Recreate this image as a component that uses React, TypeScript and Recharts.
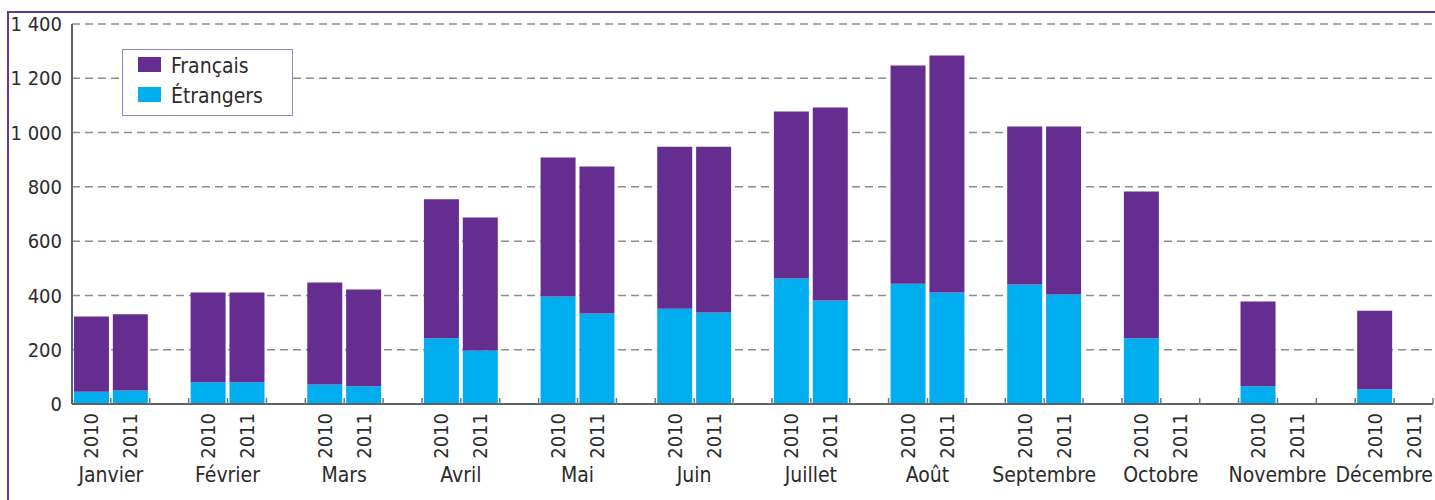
import React from "react";
import { BarChart, Bar, XAxis, YAxis, CartesianGrid } from "recharts";

const months = [
  "Janvier", "Février", "Mars", "Avril", "Mai", "Juin",
  "Juillet", "Août", "Septembre", "Octobre", "Novembre", "Décembre",
];
const years = ["2010", "2011"];

// Totals (Français + Étrangers); null = no data
const total2010 = [322, 411, 448, 754, 908, 948, 1078, 1247, 1022, 783, 378, 344];
const total2011 = [331, 411, 422, 687, 875, 948, 1092, 1284, 1022, null, null, null];
const etrangers2010 = [45, 80, 72, 242, 396, 351, 462, 443, 440, 242, 65, 54];
const etrangers2011 = [50, 80, 65, 197, 333, 337, 381, 411, 403, null, null, null];

const yTicks = [0, 200, 400, 600, 800, 1000, 1200, 1400];

const PURPLE = "#652d90";
const BLUE = "#00aeef";
const FONT = "'DejaVu Sans Condensed', 'DejaVu Sans', sans-serif";
const TEXT = "#2b2b2b";

type Row = {
  key: string;
  month: string;
  year: string | null;
  francais: number | null;
  etrangers: number | null;
};

const data: Row[] = [];
months.forEach((m, i) => {
  const t = [total2010[i], total2011[i]];
  const e = [etrangers2010[i], etrangers2011[i]];
  years.forEach((y, j) => {
    data.push({
      key: `${m}-${y}`,
      month: m,
      year: y,
      francais: t[j] == null ? null : (t[j] as number) - (e[j] as number),
      etrangers: e[j],
    });
  });
  if (i < months.length - 1) {
    data.push({ key: `${m}-gap`, month: m, year: null, francais: null, etrangers: null });
  }
});

const CHART_W = 1435;
const CHART_H = 500;
const MARGIN = { top: 24, right: 2, bottom: 0, left: 0 };
const Y_W = 72;
const X_H = 96;
const BAND = (CHART_W - MARGIN.left - MARGIN.right - Y_W) / data.length;

const fmt = (v: number) => {
  const s = String(v);
  return s.length > 3 ? s.slice(0, s.length - 3) + " " + s.slice(s.length - 3) : s;
};

const XTick = (props: any) => {
  const { x, y, payload } = props;
  const idx = payload.index;
  const row = data[idx];
  const left = x - BAND / 2;
  const right = x + BAND / 2;
  const isLast = idx === data.length - 1;
  const isFirst = idx === 0;
  return (
    <g>
      {!isFirst && (
        <line x1={left} x2={left} y1={y} y2={y - 6} stroke="#6f7777" strokeWidth={1.5} />
      )}
      {isLast && (
        <line x1={right} x2={right} y1={y} y2={y - 6} stroke="#6f7777" strokeWidth={1.5} />
      )}
      {row.year && (
        <text
          x={x}
          y={y + 9}
          transform={`rotate(-90 ${x} ${y + 9})`}
          textAnchor="end"
          dominantBaseline="central"
          fontFamily={FONT}
          fontSize={20}
          fill={TEXT}
        >
          {row.year}
        </text>
      )}
      {row.year === "2010" && (
        <text
          x={idx === data.length - 2 ? x + BAND * 1.5 : right}
          y={y + 78}
          textAnchor={idx === data.length - 2 ? "end" : "middle"}
          fontFamily={FONT}
          fontSize={21}
          fill={TEXT}
        >
          {row.month}
        </text>
      )}
    </g>
  );
};

const Legend = () => (
  <div
    style={{
      position: "absolute",
      left: 122,
      top: 49,
      width: 169,
      height: 65,
      border: "1px solid #9a84c2",
      background: "#fff",
      fontFamily: FONT,
      fontSize: 21,
      color: TEXT,
    }}
  >
    {[
      { label: "Français", color: PURPLE, top: 7 },
      { label: "Étrangers", color: BLUE, top: 37 },
    ].map((it) => (
      <div key={it.label} style={{ position: "absolute", left: 15, top: it.top, height: 16 }}>
        <div
          style={{
            position: "absolute",
            left: 0,
            top: 0,
            width: 23,
            height: 15,
            background: it.color,
          }}
        />
        <div
          style={{
            position: "absolute",
            left: 33,
            top: -3,
            whiteSpace: "nowrap",
            lineHeight: "24px",
          }}
        >
          {it.label}
        </div>
      </div>
    ))}
  </div>
);

export default function App() {
  return (
    <div
      style={{
        position: "absolute",
        left: 0,
        top: 0,
        width: CHART_W,
        height: CHART_H,
        background: "#fff",
        overflow: "hidden",
      }}
    >
      <div
        style={{
          position: "absolute",
          left: 7,
          top: 11,
          width: CHART_W,
          height: CHART_H,
          borderLeft: "2px solid #68359a",
          borderTop: "2px solid #68359a",
        }}
      />
      <div style={{ position: "absolute", left: 0, top: 0 }}>
        <BarChart
          width={CHART_W}
          height={CHART_H}
          data={data}
          margin={MARGIN}
          barCategoryGap="5%"
        >
          <CartesianGrid
            vertical={false}
            stroke="#86908f"
            strokeWidth={1.5}
            strokeDasharray="8 5"
          />
          <XAxis
            dataKey="key"
            interval={0}
            height={X_H}
            tickSize={0}
            tickMargin={0}
            tickLine={false}
            axisLine={{ stroke: "#5b6366", strokeWidth: 2 }}
            tick={<XTick />}
          />
          <YAxis
            width={Y_W}
            domain={[0, 1400]}
            ticks={yTicks}
            interval={0}
            tickFormatter={fmt}
            tickLine={false}
            tickMargin={4}
            axisLine={{ stroke: "#5b6366", strokeWidth: 2 }}
            tick={{ fontFamily: FONT, fontSize: 20, fill: TEXT }}
          />
          <Bar dataKey="etrangers" stackId="a" fill={BLUE} isAnimationActive={false} />
          <Bar dataKey="francais" stackId="a" fill={PURPLE} isAnimationActive={false} />
        </BarChart>
      </div>
      <Legend />
    </div>
  );
}
